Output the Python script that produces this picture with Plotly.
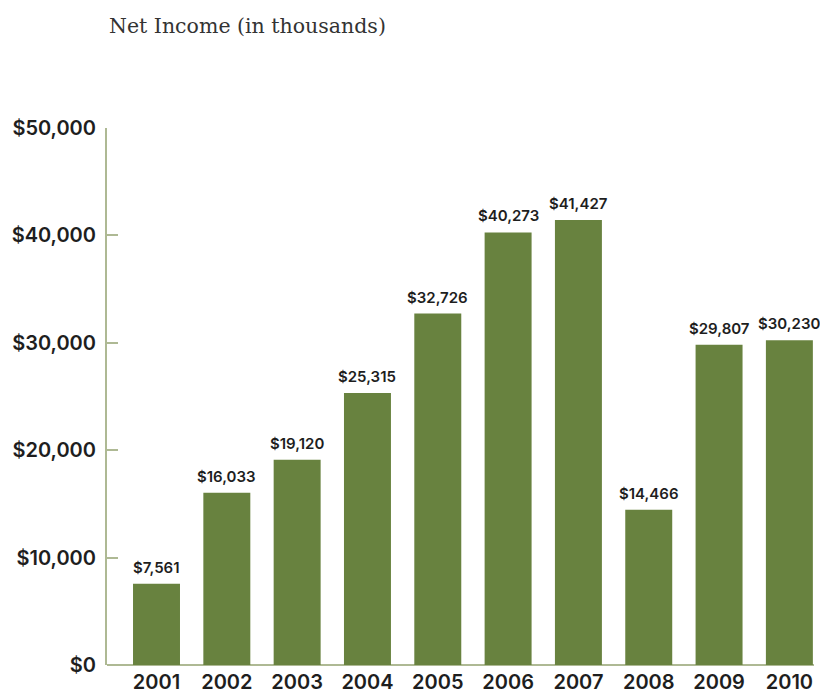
import plotly.graph_objects as go

years = ["2001", "2002", "2003", "2004", "2005", "2006", "2007", "2008", "2009", "2010"]
net_income = [7561, 16033, 19120, 25315, 32726, 40273, 41427, 14466, 29807, 30230]
y_ticks = [0, 10000, 20000, 30000, 40000, 50000]

BAR_COLOR = "#68823f"
AXIS_COLOR = "#aeb994"
TEXT_COLOR = "#1e1e1e"
SANS = "Inter, Open Sans, sans-serif"

x_pos = list(range(len(years)))

fig = go.Figure(
    go.Bar(
        x=x_pos,
        y=net_income,
        marker=dict(color=BAR_COLOR, line=dict(width=0)),
        width=0.668,
        hoverinfo="skip",
    )
)

# value labels sitting just above each bar
value_labels = [
    dict(
        x=xi, y=v, xref="x", yref="y",
        text=f"${v:,}",
        showarrow=False,
        xanchor="center", yanchor="bottom",
        yshift=5,
        font=dict(family=SANS, size=15, color=TEXT_COLOR, weight=600),
    )
    for xi, v in zip(x_pos, net_income)
]

title = dict(
    text="Net Income (in thousands)",
    xref="paper", yref="paper",
    x=0, y=1, xanchor="left", yanchor="middle",
    yshift=102,
    showarrow=False,
    font=dict(family="DejaVu Serif, serif", size=20.5, color="#333333"),
)

fig.update_layout(
    width=820,
    height=696,
    margin=dict(l=107, r=6, t=128, b=31),
    paper_bgcolor="white",
    plot_bgcolor="white",
    showlegend=False,
    annotations=[title] + value_labels,
)

fig.update_xaxes(
    range=[-0.704, 9.35],
    tickmode="array",
    tickvals=x_pos,
    ticktext=years,
    showgrid=False,
    zeroline=False,
    showline=False,
    ticks="",
    automargin=False,
    ticklabelstandoff=3,
    tickfont=dict(family=SANS, size=20, color=TEXT_COLOR, weight=600),
)

fig.update_yaxes(
    range=[0, 50000],
    tickmode="array",
    tickvals=y_ticks,
    ticktext=[f"${t:,}" for t in y_ticks],
    showgrid=False,
    zeroline=True,
    zerolinecolor=AXIS_COLOR,
    zerolinewidth=2,
    showline=True,
    linecolor=AXIS_COLOR,
    linewidth=2,
    ticks="inside",
    ticklen=11,
    tickwidth=2,
    tickcolor=AXIS_COLOR,
    automargin=False,
    ticklabelstandoff=5,
    tickfont=dict(family=SANS, size=20, color=TEXT_COLOR, weight=600),
)

fig.write_html("out.html")
